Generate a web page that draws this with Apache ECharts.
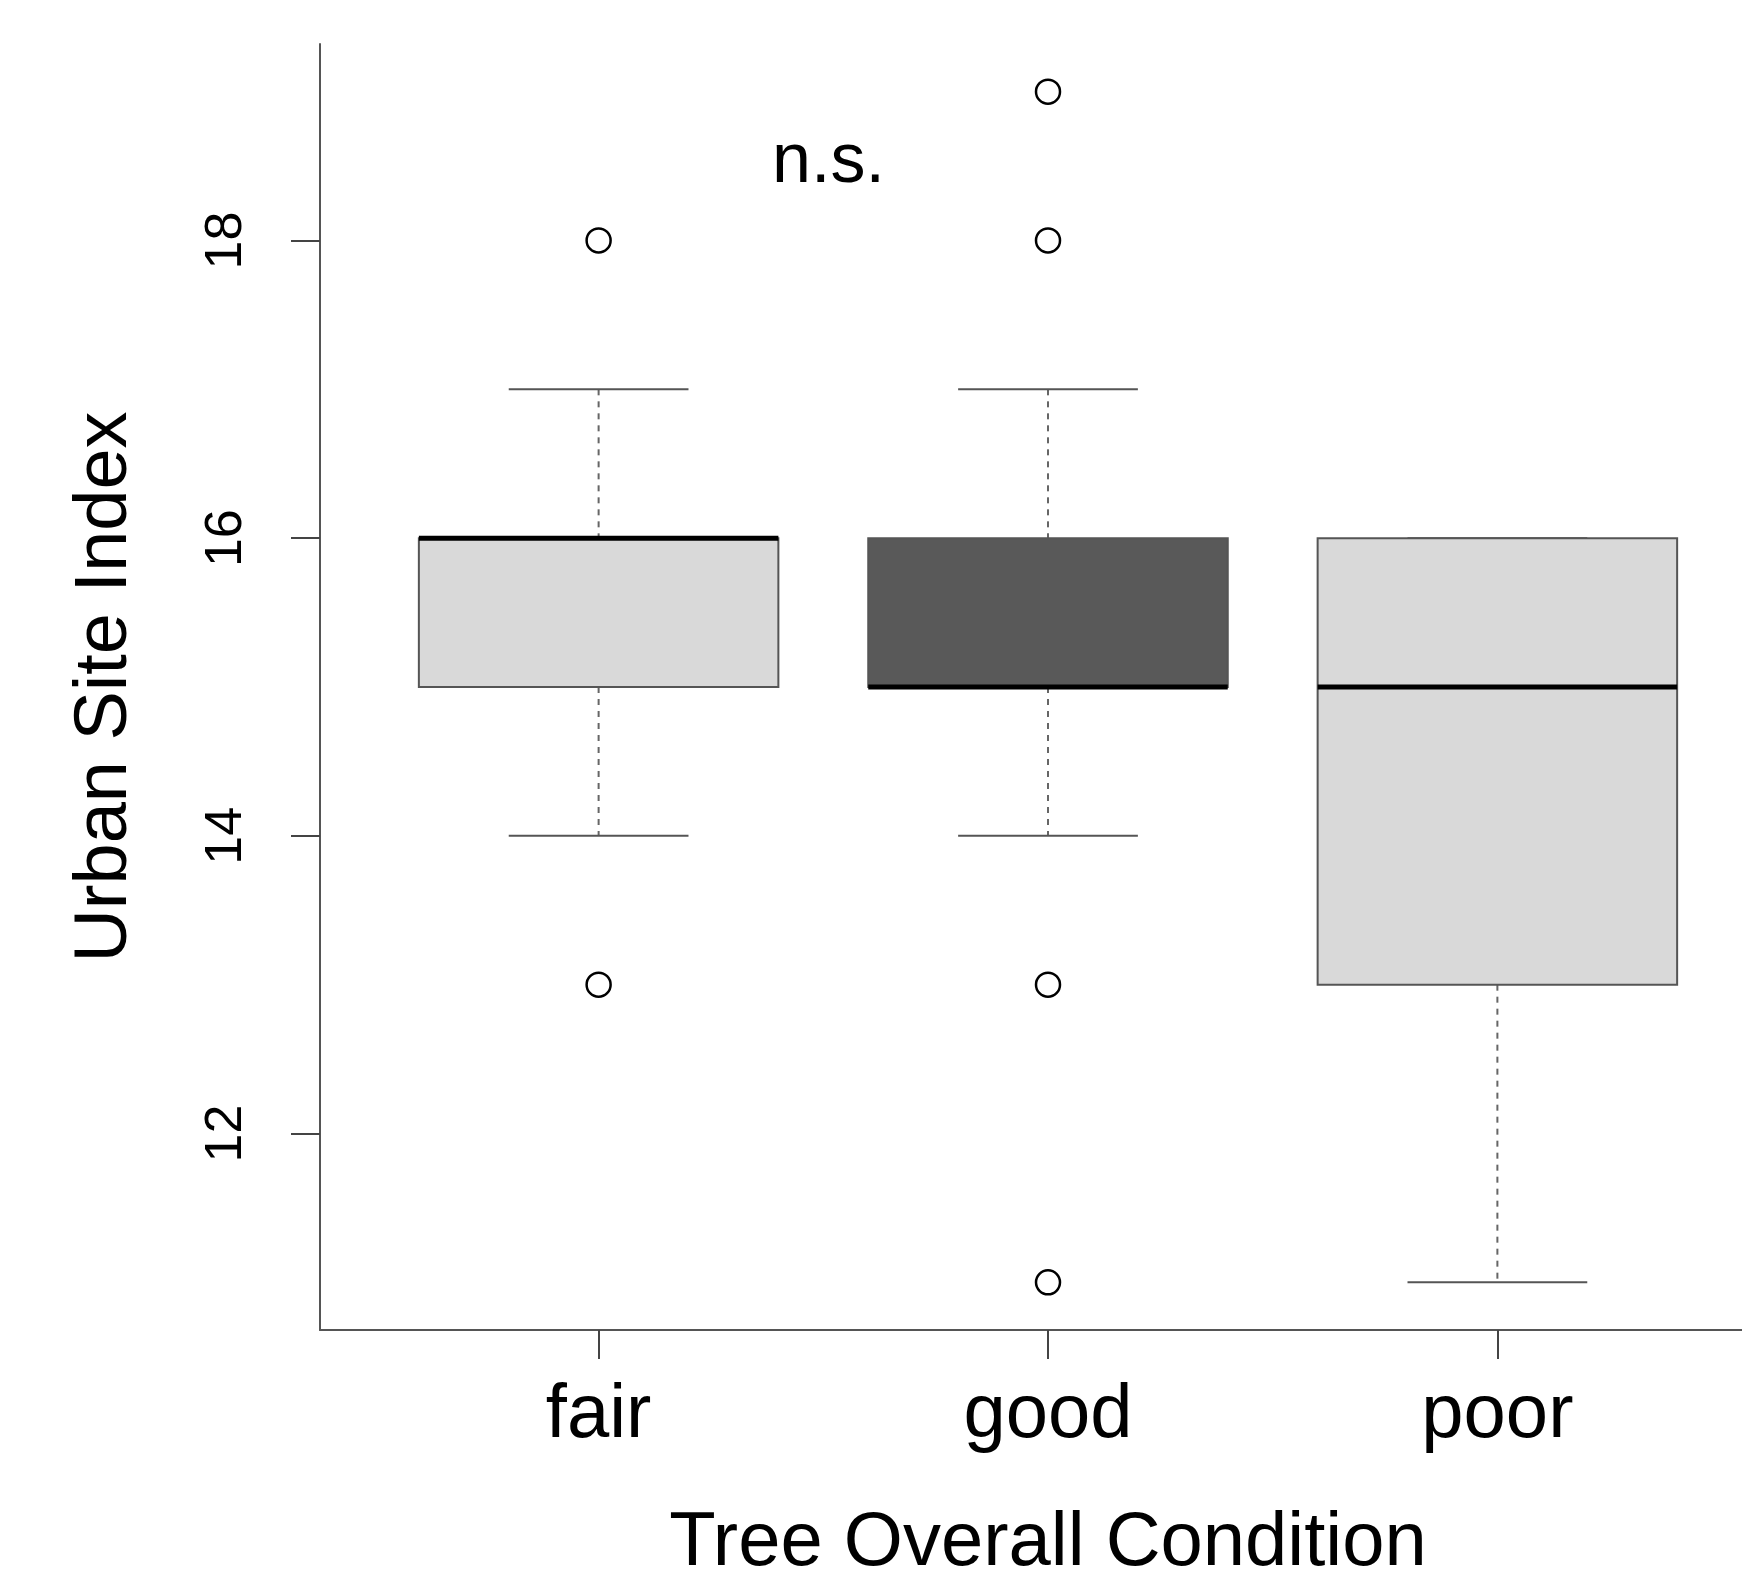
<!DOCTYPE html>
<html>
<head>
<meta charset="utf-8">
<script src="https://cdn.jsdelivr.net/npm/echarts@6/dist/echarts.min.js"></script>
<style>
  html, body { margin: 0; padding: 0; background: #fff; }
  #chart { width: 1742px; height: 1575px; }
</style>
</head>
<body>
<div id="chart"></div>
<script>
// 数据：每组的五数概括和离群点
const categories = ['fair', 'good', 'poor']
const lowerWhisker = [14, 14, 11]
const lowerQuartile = [15, 15, 13]
const medians = [16, 15, 15]
const upperQuartile = [16, 16, 16]
const upperWhisker = [17, 17, 16]
const outliers = [
  [18, 13],
  [19, 18, 13, 11],
  []
]
const yTicks = [12, 14, 16, 18]
const boxFills = ['#d9d9d9', '#595959', '#d9d9d9']

const FONT = 'Liberation Sans'

const boxData = categories.map((c, i) => [i + 1, lowerWhisker[i], lowerQuartile[i], medians[i], upperQuartile[i], upperWhisker[i]])
const outlierData = []
outliers.forEach((list, i) => {
  list.forEach(v => outlierData.push([i + 1, v]))
})

const chart = echarts.init(document.getElementById('chart'))

function renderBox (params, api) {
  const x = api.value(0)
  const lo = api.value(1)
  const q1 = api.value(2)
  const med = api.value(3)
  const q3 = api.value(4)
  const hi = api.value(5)
  const pLo = api.coord([x, lo])
  const pQ1 = api.coord([x, q1])
  const pMed = api.coord([x, med])
  const pQ3 = api.coord([x, q3])
  const pHi = api.coord([x, hi])
  const boxW = api.size([0.8, 0])[0]
  const capW = api.size([0.4, 0])[0]
  const cx = pMed[0]
  const children = []
  // 须线（虚线）
  if (hi > q3) {
    children.push({
      type: 'line',
      shape: { x1: cx, y1: pHi[1], x2: cx, y2: pQ3[1] },
      style: { stroke: '#666', lineWidth: 2, lineDash: [6, 6] }
    })
  }
  if (lo < q1) {
    children.push({
      type: 'line',
      shape: { x1: cx, y1: pQ1[1], x2: cx, y2: pLo[1] },
      style: { stroke: '#666', lineWidth: 2, lineDash: [6, 6] }
    })
  }
  // 端线
  children.push({
    type: 'line',
    shape: { x1: cx - capW / 2, y1: pHi[1], x2: cx + capW / 2, y2: pHi[1] },
    style: { stroke: '#555', lineWidth: 2 }
  })
  children.push({
    type: 'line',
    shape: { x1: cx - capW / 2, y1: pLo[1], x2: cx + capW / 2, y2: pLo[1] },
    style: { stroke: '#555', lineWidth: 2 }
  })
  // 箱体
  children.push({
    type: 'rect',
    shape: { x: cx - boxW / 2, y: pQ3[1], width: boxW, height: pQ1[1] - pQ3[1] },
    style: { fill: boxFills[params.dataIndex], stroke: '#555', lineWidth: 2 }
  })
  // 中位数
  children.push({
    type: 'line',
    shape: { x1: cx - boxW / 2, y1: pMed[1], x2: cx + boxW / 2, y2: pMed[1] },
    style: { stroke: '#000', lineWidth: 5 }
  })
  return { type: 'group', children: children }
}

chart.setOption({
  animation: false,
  textStyle: { fontFamily: FONT },
  grid: {
    left: 320,
    right: -34,
    top: 44,
    bottom: 245,
    outerBoundsMode: 'none'
  },
  xAxis: {
    type: 'value',
    min: 0.38,
    max: 3.62,
    name: 'Tree Overall Condition',
    nameLocation: 'middle',
    nameGap: 176,
    nameTextStyle: { fontSize: 76, color: '#000', fontFamily: FONT },
    axisLine: { show: true, onZero: false, lineStyle: { color: '#555', width: 2 } },
    axisTick: { show: true, customValues: [1, 2, 3], length: 29, lineStyle: { color: '#444', width: 2 } },
    axisLabel: {
      customValues: [1, 2, 3],
      formatter: v => categories[Math.round(v) - 1],
      fontSize: 76,
      color: '#000',
      margin: 48
    },
    splitLine: { show: false }
  },
  yAxis: {
    type: 'value',
    min: 10.68,
    max: 19.32,
    name: 'Urban Site Index',
    nameLocation: 'middle',
    nameGap: 177,
    nameTextStyle: { fontSize: 74, color: '#000', fontFamily: FONT },
    axisLine: { show: true, onZero: false, lineStyle: { color: '#555', width: 2 } },
    axisTick: { show: true, customValues: yTicks, length: 29, lineStyle: { color: '#444', width: 2 } },
    axisLabel: {
      customValues: yTicks,
      rotate: 90,
      fontSize: 52,
      color: '#000',
      margin: 67
    },
    splitLine: { show: false }
  },
  graphic: [
    {
      type: 'text',
      left: 822 - 50,
      top: 163 - 35,
      style: { text: 'n.s.', fontSize: 70, fill: '#000', fontFamily: FONT }
    }
  ],
  series: [
    {
      type: 'custom',
      renderItem: renderBox,
      encode: { x: 0, y: [1, 2, 3, 4, 5] },
      data: boxData
    },
    {
      type: 'scatter',
      symbol: 'circle',
      symbolSize: 24,
      itemStyle: { color: '#fff', borderColor: '#000', borderWidth: 2.5, opacity: 1 },
      data: outlierData
    }
  ]
})
</script>
</body>
</html>
